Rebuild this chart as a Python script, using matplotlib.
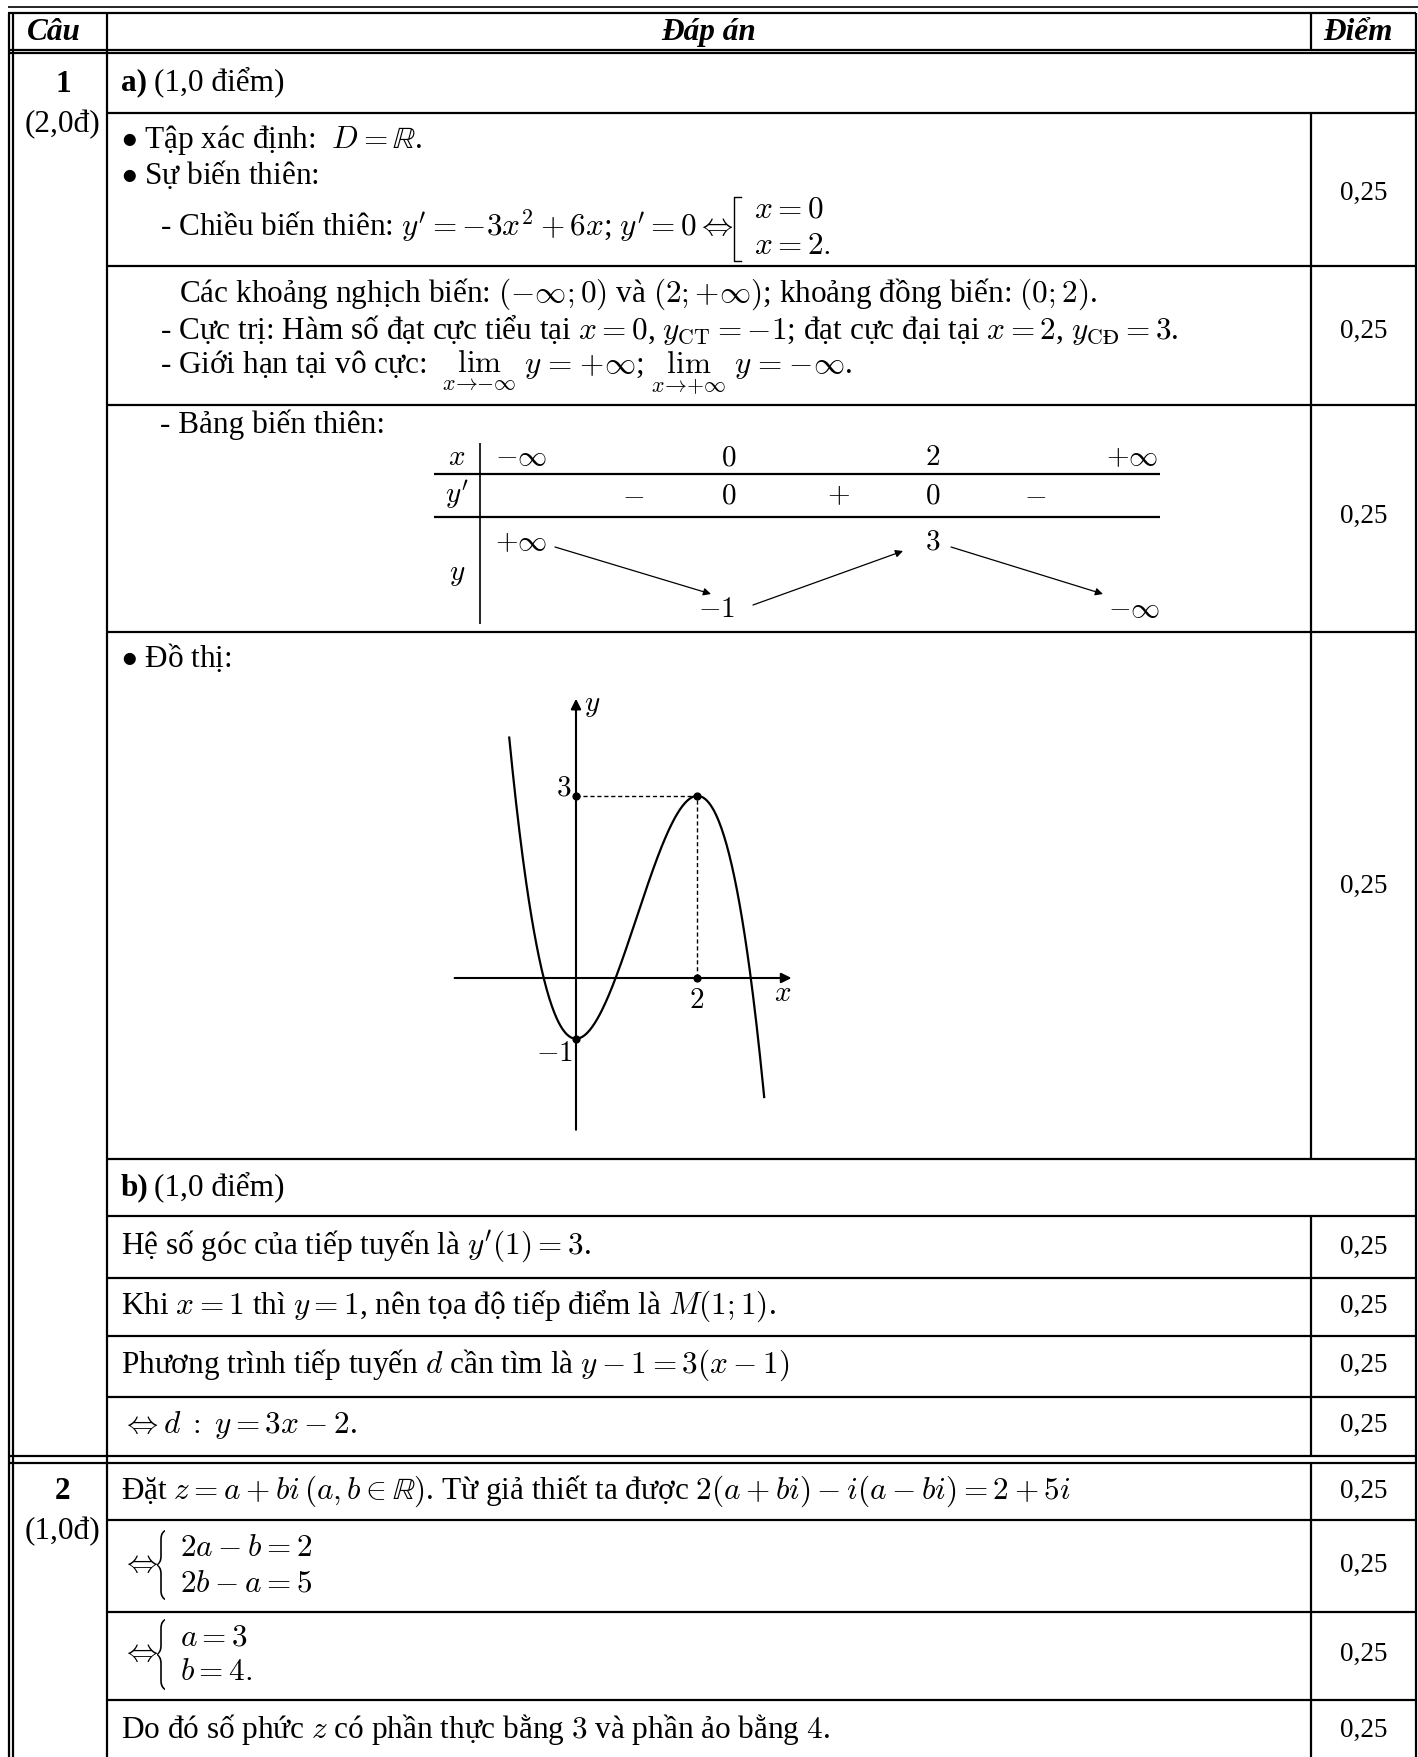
import numpy as np
import matplotlib.pyplot as plt
from matplotlib.patches import PathPatch
from matplotlib.textpath import TextPath
from matplotlib.transforms import Affine2D

plt.rcParams['mathtext.fontset'] = 'cm'
plt.rcParams['font.family'] = ['Liberation Serif', 'DejaVu Serif']

# --------------------
# noi dung bang
# --------------------

header = ["Câu", "Đáp án", "Điểm"]
question_no = ["1", "2"]
question_pts = ["(2,0đ)", "(1,0đ)"]
part_label = ["a)", "b)"]
part_pts = ["(1,0 điểm)", "(1,0 điểm)"]
score = "0,25"

rows_tap = [
    r"$\bullet$ Tập xác định:  $D = \mathbb{R}$.",
    r"$\bullet$ Sự biến thiên:",
    r"- Chiều biến thiên: $y' = -3x^2 + 6x$; $y' = 0 \Leftrightarrow$",
]
cases_roots = [r"$x = 0$", r"$x = 2.$"]

rows_ct = [
    r"Các khoảng nghịch biến: $(-\infty; 0)$ và $(2; {+\infty})$; khoảng đồng biến: $(0; 2)$.",
    r"- Cực trị: Hàm số đạt cực tiểu tại $x = 0$, $y_{\mathrm{CT}} = -1$; đạt cực đại tại $x = 2$, $y_{\mathrm{CĐ}} = 3$.",
    r"- Giới hạn tại vô cực:  $\lim_{x \to -\infty}\ y \;=\; +\infty$; $\lim_{x \to +\infty}\ y \;=\; -\infty$.",
]
bbt_title = "- Bảng biến thiên:"
bbt_names = ["$x$", "$y'$", "$y$"]
bbt_x = [r"$-\infty$", "$0$", "$2$", r"$+\infty$"]
bbt_sign = ["$-$", "$0$", "$+$", "$0$", "$-$"]
bbt_y = [r"$+\infty$", "$-1$", "$3$", r"$-\infty$"]
graph_title = r"$\bullet$ Đồ thị:"

rows_b = [
    r"Hệ số góc của tiếp tuyến là $y'(1) = 3$.",
    r"Khi $x = 1$ thì $y = 1$, nên tọa độ tiếp điểm là $M(1; 1)$.",
    r"Phương trình tiếp tuyến $d$ cần tìm là $y - 1 = 3(x - 1)$",
    r"$\Leftrightarrow d\;:\;y = 3x - 2$.",
]
row_dat = r"Đặt $z = a + bi\,(a, b \in \mathbb{R})$. Từ giả thiết ta được $2(a + bi) - i(a - bi) = 2 + 5i$"
system1 = [r"$2a - b = 2$", r"$2b - a = 5$"]
system2 = [r"$a = 3$", r"$b = 4.$"]
row_end = r"Do đó số phức $z$ có phần thực bằng $3$ và phần ảo bằng $4$."

# do thi y = -x^3 + 3x^2 - 1
curve_coef = [-1, 3, 0, -1]
curve_x = (-1.1, 3.1)
mark_x = [0, 2, 2, 0]
mark_y = [3, 3, 0, -1]

# --------------------
# bo cuc (pixel)
# --------------------

W, H = 1418, 1757
FS = 22.5
FS_SC = 19.5
FS_SM = 21
LW = 1.6
X_IN = [9, 13]
X_C1, X_C2, X_R = 107, 1311, 1416
X_SC = (X_C2 + X_R) / 2

fig = plt.figure(figsize=(W / 100, H / 100), dpi=100)
ax = fig.add_axes([0, 0, 1, 1])
ax.set_xlim(0, W)
ax.set_ylim(H, 0)
ax.axis('off')

# khung bang
ax.hlines(7, 8, W, color='k', lw=1.2)
ax.hlines([13, 50, 53, 1456, 1463], 8, X_R, color='k', lw=LW)
ax.hlines([113, 266, 405, 632, 1159, 1216, 1278, 1336, 1397,
           1520, 1612, 1700], X_C1, X_R, color='k', lw=LW)
ax.vlines(X_IN + [X_C1, X_R], 13, H, color='k', lw=LW)
for y0, y1 in [(13, 50), (113, 1159), (1216, 1456), (1463, H)]:
    ax.vlines(X_C2, y0, y1, color='k', lw=LW)


def put(x, y, s, ha='left', va='baseline', **kw):
    kw.setdefault('fontsize', FS)
    ax.text(x, y, s, ha=ha, va=va, **kw)


def brace(x, y0, y1, w):
    tp = TextPath((0, 0), r"$\{$", size=30)
    bb = tp.get_extents()
    tr = (Affine2D().translate(-bb.x0, -bb.y1)
          .scale(w / bb.width, -(y1 - y0) / bb.height)
          .translate(x, y0))
    ax.add_patch(PathPatch(tr.transform_path(tp), fc='k', lw=0))


# tieu de
hdr_x = [54, (X_C1 + X_C2) / 2, 1358]
for hx, s in zip(hdr_x, header):
    put(hx, 40, s, ha='center', weight='bold', style='italic')

# cot cau
for qy, no, pts in zip([92, 1499], question_no, question_pts):
    put(63, qy, no, ha='center', weight='bold')
    put(63, qy + 40, pts, ha='center')

for py, lab, pts in zip([90, 1195], part_label, part_pts):
    put(121, py, lab, weight='bold')
    put(154, py, pts)

# phan a
put(121, 148, rows_tap[0])
put(121, 184, rows_tap[1])
put(160, 237, rows_tap[2])
ax.plot([741, 734, 734, 741], [197, 197, 261, 261], color='k', lw=1.0)
for cy, s in zip([217, 254], cases_roots):
    put(754, cy, s)

put(179, 302, rows_ct[0])
put(160, 339, rows_ct[1])
put(160, 373, rows_ct[2])

# bang bien thien
put(160, 433, bbt_title)
ax.vlines(480, 443, 624, color='k', lw=1.2)
ax.hlines([474, 517], 434, 1160, color='k', lw=1.6)
for ny, s in zip([465, 503, 580], bbt_names):
    put(457, ny, s, ha='center', fontsize=FS_SM)
for bx, s in zip([521, 729, 933, 1132], bbt_x):
    put(bx, 465, s, ha='center', fontsize=FS_SM)
for bx, s in zip([633, 729, 838, 933, 1035], bbt_sign):
    put(bx, 503, s, ha='center', fontsize=FS_SM)
for (bx, by), s in zip([(521, 550), (717, 617), (933, 549), (1134, 617)], bbt_y):
    put(bx, by, s, ha='center', fontsize=FS_SM)
arrow_kw = dict(arrowstyle='-|>', color='k', lw=0.9, mutation_scale=11,
                shrinkA=0, shrinkB=0)
for a, b in [((555, 547), (711, 594)), ((753, 605), (903, 551)),
             ((951, 547), (1103, 594))]:
    ax.annotate('', xy=b, xytext=a, arrowprops=arrow_kw)

put(121, 667, graph_title)

# phan b
for by, s in zip([1255, 1314, 1373, 1433], rows_b):
    put(121, by, s)

# cau 2
put(121, 1499, row_dat)
for cy, sysl, (b0, b1) in zip([1565, 1654], [system1, system2],
                              [(1530, 1600), (1619, 1690)]):
    put(121, cy + 7, r"$\Leftrightarrow$")
    brace(157, b0, b1, 8)
    put(180, cy - 9, sysl[0])
    put(180, cy + 26, sysl[1])
put(121, 1738, row_end)

# diem
for sy in [193, 331, 516, 886, 1247, 1306, 1365, 1425, 1491, 1565, 1654, 1730]:
    put(X_SC, sy, score, ha='center', va='center', fontsize=FS_SC)

# --------------------
# do thi
# --------------------

ORG = (576, 978)
UNIT = 60.7
xl, xr, yb, yt = -2.2, 3.9, -2.7, 4.8
g = fig.add_axes([(ORG[0] + xl * UNIT) / W,
                  (H - ORG[1] + yb * UNIT) / H,
                  (xr - xl) * UNIT / W,
                  (yt - yb) * UNIT / H])
g.set_xlim(xl, xr)
g.set_ylim(yb, yt)
g.axis('off')

axis_kw = dict(arrowstyle='-|>', color='k', lw=1.5, mutation_scale=15,
               shrinkA=0, shrinkB=0)
g.annotate('', xy=(3.55, 0), xytext=(-2.0, 0), arrowprops=axis_kw)
g.annotate('', xy=(0, 4.6), xytext=(0, -2.5), arrowprops=axis_kw)

xs = np.linspace(curve_x[0], curve_x[1], 300)
g.plot(xs, np.polyval(curve_coef, xs), color='k', lw=1.6)
g.plot([0, 2, 2], [3, 3, 0], color='k', lw=1.0, ls=(0, (3, 2)))
g.scatter(mark_x, mark_y, s=24, color='k', zorder=5)

g.text(0.27, 4.48, "$y$", fontsize=FS_SM, ha='center', va='center')
g.text(3.41, -0.26, "$x$", fontsize=FS_SM, ha='center', va='center')
g.text(-0.21, 3.13, "$3$", fontsize=FS_SM, ha='center', va='center')
g.text(1.99, -0.38, "$2$", fontsize=FS_SM, ha='center', va='center')
g.text(-0.36, -1.25, "$-1$", fontsize=FS_SM, ha='center', va='center')

fig.savefig("out.png", dpi=100)
